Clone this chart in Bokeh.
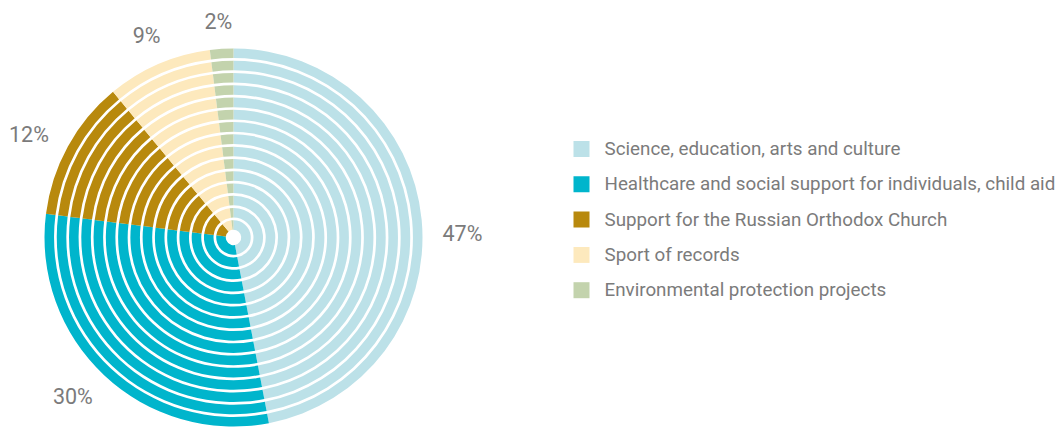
import math
from bokeh.plotting import figure
from bokeh.models import ColumnDataSource, Range1d
from bokeh.core.properties import value
from bokeh.embed import file_html
from bokeh.resources import INLINE

categories = ["Science, education, arts and culture",
              "Healthcare and social support for individuals, child aid",
              "Support for the Russian Orthodox Church",
              "Sport of records",
              "Environmental protection projects"]
shares = [47, 30, 12, 9, 2]
pct_labels = ["47%", "30%", "12%", "9%", "2%"]
colors = ["#bce1e8", "#00b5cc", "#b8890d", "#fde9bd", "#c3d3ad"]

# label placement tweaks (layout only): angle offset in degrees, radius in px
lab_dtheta = [4.4, 2.1, -2.1, 0.15, -0.4]
lab_radius = [229, 226, 229, 220, 217]

W, H = 1061, 427
PAGE_H = 427
FONT = "Roboto"
TXT = "#7b7b7b"

def py(y):
    return PAGE_H - y

cx, cy = 233, py(237)
R_OUT = 189.0
R_HOLE = 5.0
N_RINGS = 15
GAP = 2.7
step = (R_OUT - R_HOLE) / N_RINGS

p = figure(width=W, height=H, output_backend="svg", toolbar_location=None,
           x_range=Range1d(0, W), y_range=Range1d(PAGE_H - H, PAGE_H),
           min_border=0)
p.axis.visible = False
p.grid.visible = False
p.outline_line_color = None
p.background_fill_color = "white"
p.border_fill_color = "white"

total = float(sum(shares))
xs, ys, inn, out, sa, ea, col = [], [], [], [], [], [], []
cum = 0.0
for s, c in zip(shares, colors):
    c0 = cum / total
    c1 = (cum + s) / total
    cum += s
    for i in range(N_RINGS):
        xs.append(cx); ys.append(cy)
        inn.append(R_HOLE + i * step + GAP)
        out.append(R_HOLE + (i + 1) * step)
        sa.append(math.pi / 2 - c1 * 2 * math.pi)
        ea.append(math.pi / 2 - c0 * 2 * math.pi)
        col.append(c)
src = ColumnDataSource(dict(x=xs, y=ys, inner=inn, outer=out, sa=sa, ea=ea, color=col))
p.annular_wedge(x="x", y="y", inner_radius="inner", outer_radius="outer",
                start_angle="sa", end_angle="ea", fill_color="color", line_color=None,
                source=src)

# percentage labels
lx, ly = [], []
cum = 0.0
for s, dth, rl in zip(shares, lab_dtheta, lab_radius):
    mid = (cum + s / 2) / total
    cum += s
    a = mid * 2 * math.pi + math.radians(dth)
    lx.append(cx + rl * math.sin(a))
    ly.append(cy + rl * math.cos(a))
p.text(x=lx, y=ly, text=pct_labels, text_font=value(FONT), text_font_size="21.5px",
       text_color=TXT, text_align="center", text_baseline="middle")

# legend
leg_y = [py(148.5 + 35.3 * k) for k in range(len(categories))]
p.rect(x=[581] * len(categories), y=leg_y, width=16, height=16, fill_color=colors,
       line_color=None)
p.text(x=[604] * len(categories), y=leg_y, text=categories, text_font=value(FONT),
       text_font_size="18.8px", text_color=TXT, text_align="left", text_baseline="middle")

open("out.html", "w").write(file_html(p, INLINE))
